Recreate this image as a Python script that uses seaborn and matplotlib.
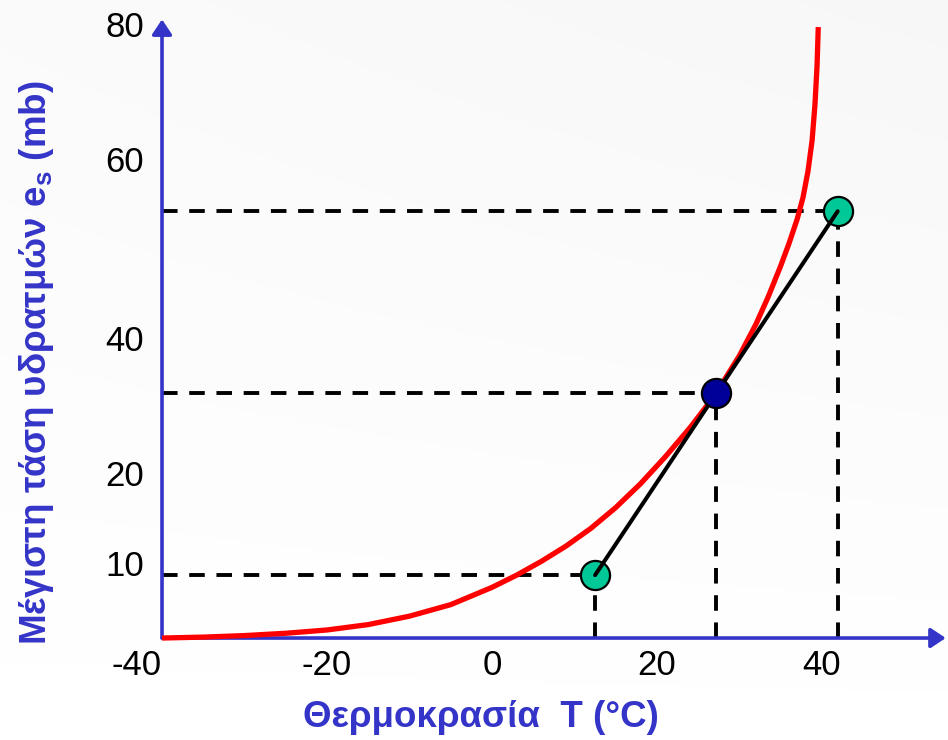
import numpy as np
import pandas as pd
import matplotlib
matplotlib.use("Agg")
import matplotlib.pyplot as plt
import seaborn as sns

# ---- data ----
curve_T = [-40, -35, -30, -25, -20, -15, -10, -5, 0, 3, 6, 9, 12, 15, 18, 21, 24,
           27, 30, 32, 33.5, 35, 36, 37, 37.7, 38.3, 38.8, 39.15, 39.4, 39.55]
curve_es = [0, 0.12, 0.32, 0.62, 1.05, 1.75, 2.85, 4.35, 6.6, 8.2, 10.0, 12.0, 14.3,
            17.0, 20.1, 23.6, 27.4, 31.6, 36.8, 40.9, 44.5, 48.5, 51.4, 54.6, 57.4,
            60.8, 64.8, 69.5, 74.5, 79.6]

point_T = [12.5, 27.2, 41.9]
point_es = [8.2, 31.9, 55.6]
point_kind = ["side", "centre", "side"]

xtick_vals = [-40, -20, 0, 20, 40]
xtick_labels = ["-40", "-20", "0", "20", "40"]
ytick_vals = [9.75, 21.5, 39.1, 62.4, 80.0]
ytick_labels = ["10", "20", "40", "60", "80"]

xlabel = "Θερμοκρασία  T (°C)"
ylabel = "Μέγιστη τάση υδρατμών e$_\\mathregular{s}$ (mb)"

# ---- style ----
sns.set_theme(style="white")
plt.rcParams["font.family"] = ["Liberation Sans", "DejaVu Sans"]

AX_BLUE = "#3434c8"
GREEN = "#00c896"
NAVY = "#000099"

fig = plt.figure(figsize=(9.48, 7.4), dpi=100)
fig.patch.set_facecolor("white")

# subtle background shading
bg = fig.add_axes([0, 0, 1, 1], zorder=-10)
yy, xx = np.mgrid[0:1:200j, 0:1:200j]
shade = 0.45 * yy + 0.3 * xx * yy
bg.imshow(shade, extent=[0, 1, 0, 1], origin="lower", cmap="Greys",
          vmin=0, vmax=12, aspect="auto")
bg.axis("off")

ax = fig.add_axes([0.1709, 0.1378, 0.8267, 0.836])
ax.set_facecolor("none")
ax.set_xlim(-40, 55)
ax.set_ylim(0, 80.6)

df_curve = pd.DataFrame({"T": curve_T, "es": curve_es})
df_pts = pd.DataFrame({"T": point_T, "es": point_es, "kind": point_kind})

# dashed guide lines
dash = (0, (4.0, 3.0))
ax.hlines(df_pts["es"], -40, df_pts["T"], colors="black", linewidth=2.8,
          linestyles=dash, zorder=1)
ax.vlines(df_pts["T"], 0, df_pts["es"], colors="black", linewidth=2.8,
          linestyles=dash, zorder=1)

# saturation curve
sns.lineplot(data=df_curve, x="T", y="es", sort=False, color="#ff0000",
             linewidth=3.8, ax=ax, zorder=3)
ax.lines[-1].set_clip_on(False)
ax.lines[-1].set_solid_capstyle("butt")
ax.lines[-1].set_solid_joinstyle("round")

# side points
sides = df_pts[df_pts["kind"] == "side"]
sns.scatterplot(data=sides, x="T", y="es", color=GREEN, s=440,
                edgecolor="black", linewidth=1.6, ax=ax, zorder=4, legend=False)

# chord / tangent line
sns.lineplot(data=sides, x="T", y="es", color="black", linewidth=2.9,
             ax=ax, zorder=5)

# central point
centre = df_pts[df_pts["kind"] == "centre"]
sns.scatterplot(data=centre, x="T", y="es", color=NAVY, s=440,
                edgecolor="black", linewidth=1.6, ax=ax, zorder=6, legend=False)

# axes with arrows
for s in ax.spines.values():
    s.set_visible(False)
arrow = dict(arrowstyle="-|>,head_length=0.45,head_width=0.3", color=AX_BLUE,
             lw=2.6, mutation_scale=20, shrinkA=0, shrinkB=0)
ax.annotate("", xy=(1.0, 0), xytext=(0, 0), xycoords="axes fraction",
            textcoords="axes fraction", arrowprops=arrow, annotation_clip=False,
            zorder=2)
ax.annotate("", xy=(0, 1.0), xytext=(0, 0), xycoords="axes fraction",
            textcoords="axes fraction", arrowprops=arrow, annotation_clip=False,
            zorder=2)

# ticks
ax.set_xticks(xtick_vals)
ax.set_xticklabels(xtick_labels)
ax.set_yticks(ytick_vals)
ax.set_yticklabels(ytick_labels)
ax.tick_params(axis="both", length=0, labelsize=25, labelcolor="black")
ax.tick_params(axis="x", pad=8)
ax.tick_params(axis="y", pad=13)
ax.get_xticklabels()[0].set_horizontalalignment("right")

# axis labels
ax.set_xlabel(xlabel, fontsize=26.5, fontweight="bold", color=AX_BLUE)
ax.set_ylabel(ylabel, fontsize=26.5, fontweight="bold", color=AX_BLUE)
ax.xaxis.set_label_coords(0.407, -0.1277)
ax.xaxis.label.set_verticalalignment("center")
ax.yaxis.set_label_coords(-0.16, 0.445)
ax.yaxis.label.set_verticalalignment("center")

fig.savefig("out.png", dpi=100, facecolor=fig.get_facecolor())
